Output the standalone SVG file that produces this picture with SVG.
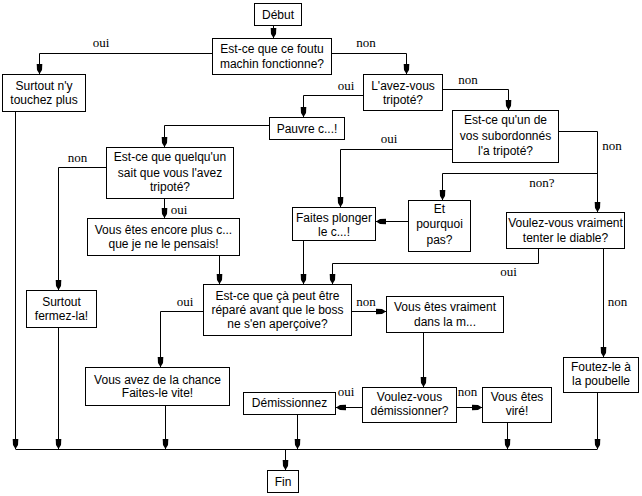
<svg xmlns="http://www.w3.org/2000/svg" width="642" height="496" viewBox="0 0 642 496">
<style>
.box{fill:#fff;stroke:#000;stroke-width:1}
.t{font-family:"Liberation Sans",Arial,sans-serif;font-size:12px;text-anchor:middle;fill:#000}
.lbl{font-family:"Liberation Serif","Times New Roman",serif;font-size:13px;text-anchor:middle;fill:#000}
.c path{fill:none;stroke:#000;stroke-width:1}
.c .a{marker-end:url(#ah)}
</style>
<defs>
<marker id="ah" markerUnits="userSpaceOnUse" markerWidth="12" markerHeight="8" viewBox="-10 -4 12 8" refX="0" refY="0" orient="auto">
<path d="M0,0 L-4,-2.5 L-10,-2.8 L-10,2.8 L-4,2.5 Z" fill="#000"/>
</marker>
</defs>
<rect width="642" height="496" fill="#fff"/>
<g class="c" id="connectors">
<path class="a" d="M273.5,25 V38"/>
<path class="a" d="M212,53.5 H39.5 V74"/>
<path class="a" d="M332,53.5 H406.5 V74"/>
<path class="a" d="M363,95.5 H303.5 V117"/>
<path class="a" d="M443,89.5 H508.5 V110"/>
<path class="a" d="M559,131.5 H597.5 V212"/>
<path class="a" d="M597.5,173.5 H442.5 V200"/>
<path class="a" d="M452,149.5 H340.5 V207"/>
<path class="a" d="M408,221.5 H376"/>
<path class="a" d="M269,125.5 H164.5 V147"/>
<path class="a" d="M106,167.5 H58.5 V290"/>
<path class="a" d="M164.5,199 V218"/>
<path class="a" d="M219.5,256 V284"/>
<path class="a" d="M303.5,241 V284"/>
<path class="a" d="M538.5,249 V263.5 H332.5 V284"/>
<path class="a" d="M603.5,249 V357"/>
<path class="a" d="M203,311.5 H160.5 V367"/>
<path class="a" d="M352,311.5 H386"/>
<path class="a" d="M423.5,333 V387"/>
<path class="a" d="M362,407.5 H336"/>
<path class="a" d="M457,407.5 H482"/>
<path d="M15.5,449.5 H597.5"/>
<path class="a" d="M15.5,112 V449"/>
<path class="a" d="M58.5,328 V449"/>
<path class="a" d="M165.5,406 V449"/>
<path class="a" d="M297.5,415 V449"/>
<path class="a" d="M507.5,423 V449"/>
<path class="a" d="M597.5,393 V449"/>
<path class="a" d="M285.5,449.5 V470"/>
</g>
<g id="labels">
<text class="lbl" x="101" y="47">oui</text>
<text class="lbl" x="366" y="47">non</text>
<text class="lbl" x="346" y="90">oui</text>
<text class="lbl" x="468" y="84">non</text>
<text class="lbl" x="389" y="143">oui</text>
<text class="lbl" x="612" y="150">non</text>
<text class="lbl" x="542" y="187">non?</text>
<text class="lbl" x="77.5" y="162">non</text>
<text class="lbl" x="179" y="214">oui</text>
<text class="lbl" x="508.5" y="275.5">oui</text>
<text class="lbl" x="617.5" y="305.5">non</text>
<text class="lbl" x="185" y="305.5">oui</text>
<text class="lbl" x="366" y="305.5">non</text>
<text class="lbl" x="346" y="395.5">oui</text>
<text class="lbl" x="467.5" y="395.5">non</text>
</g>
<g id="debut"><rect class="box" x="254.5" y="3.5" width="47" height="22"/><text class="t" x="278" y="18.5">Début</text></g>
<g id="q1"><rect class="box" x="212.5" y="38.5" width="119" height="36"/><text class="t" x="272" y="53">Est-ce que ce foutu</text><text class="t" x="272" y="68">machin fonctionne?</text></g>
<g id="surtout1"><rect class="box" x="2.5" y="74.5" width="83" height="37"/><text class="t" x="44" y="90">Surtout n'y</text><text class="t" x="44" y="104">touchez plus</text></g>
<g id="lavez"><rect class="box" x="363.5" y="74.5" width="79" height="36"/><text class="t" x="403" y="89.5">L'avez-vous</text><text class="t" x="403" y="103.5">tripoté?</text></g>
<g id="q3"><rect class="box" x="452.5" y="110.5" width="106" height="52"/><text class="t" x="505.5" y="124">Est-ce qu'un de</text><text class="t" x="505.5" y="139.5">vos subordonnés</text><text class="t" x="505.5" y="154.5">l'a tripoté?</text></g>
<g id="pauvre"><rect class="box" x="269.5" y="117.5" width="75" height="22"/><text class="t" x="307" y="132.5">Pauvre c...!</text></g>
<g id="q4"><rect class="box" x="106.5" y="147.5" width="127" height="51"/><text class="t" x="170" y="161">Est-ce que quelqu'un</text><text class="t" x="170" y="176.5">sait que vous l'avez</text><text class="t" x="170" y="191">tripoté?</text></g>
<g id="encore"><rect class="box" x="87.5" y="218.5" width="152" height="37"/><text class="t" x="163.5" y="233.5">Vous êtes encore plus c...</text><text class="t" x="163.5" y="247.5">que je ne le pensais!</text></g>
<g id="faites"><rect class="box" x="292.5" y="207.5" width="83" height="33"/><text class="t" x="334" y="221.5">Faites plonger</text><text class="t" x="334" y="236">le c...!</text></g>
<g id="pourquoi"><rect class="box" x="408.5" y="200.5" width="62" height="51"/><text class="t" x="439.5" y="212.5">Et</text><text class="t" x="439.5" y="228">pourquoi</text><text class="t" x="439.5" y="244">pas?</text></g>
<g id="diable"><rect class="box" x="506.5" y="212.5" width="118" height="36"/><text class="t" x="565.5" y="227">Voulez-vous vraiment</text><text class="t" x="565.5" y="241.5">tenter le diable?</text></g>
<g id="fermez"><rect class="box" x="26.5" y="290.5" width="70" height="37"/><text class="t" x="61.5" y="305.5">Surtout</text><text class="t" x="61.5" y="319.5">fermez-la!</text></g>
<g id="q6"><rect class="box" x="203.5" y="284.5" width="148" height="51"/><text class="t" x="277.5" y="299.5">Est-ce que çà peut être</text><text class="t" x="277.5" y="313.5">réparé avant que le boss</text><text class="t" x="277.5" y="328">ne s'en aperçoive?</text></g>
<g id="chance"><rect class="box" x="85.5" y="367.5" width="144" height="38"/><text class="t" x="157.5" y="383.5">Vous avez de la chance</text><text class="t" x="157.5" y="397">Faites-le vite!</text></g>
<g id="mdans"><rect class="box" x="386.5" y="296.5" width="117" height="36"/><text class="t" x="445" y="311">Vous êtes vraiment</text><text class="t" x="445" y="325.5">dans la m...</text></g>
<g id="demiss"><rect class="box" x="362.5" y="387.5" width="94" height="35"/><text class="t" x="409.5" y="401">Voulez-vous</text><text class="t" x="409.5" y="415">démissionner?</text></g>
<g id="demissionnez"><rect class="box" x="243.5" y="392.5" width="92" height="22"/><text class="t" x="289.5" y="407">Démissionnez</text></g>
<g id="vire"><rect class="box" x="482.5" y="387.5" width="69" height="35"/><text class="t" x="517" y="401">Vous êtes</text><text class="t" x="517" y="415">viré!</text></g>
<g id="foutez"><rect class="box" x="563.5" y="357.5" width="75" height="35"/><text class="t" x="601" y="371">Foutez-le à</text><text class="t" x="601" y="384.5">la poubelle</text></g>
<g id="fin"><rect class="box" x="267.5" y="470.5" width="31" height="22"/><text class="t" x="283" y="486">Fin</text></g>
</svg>
